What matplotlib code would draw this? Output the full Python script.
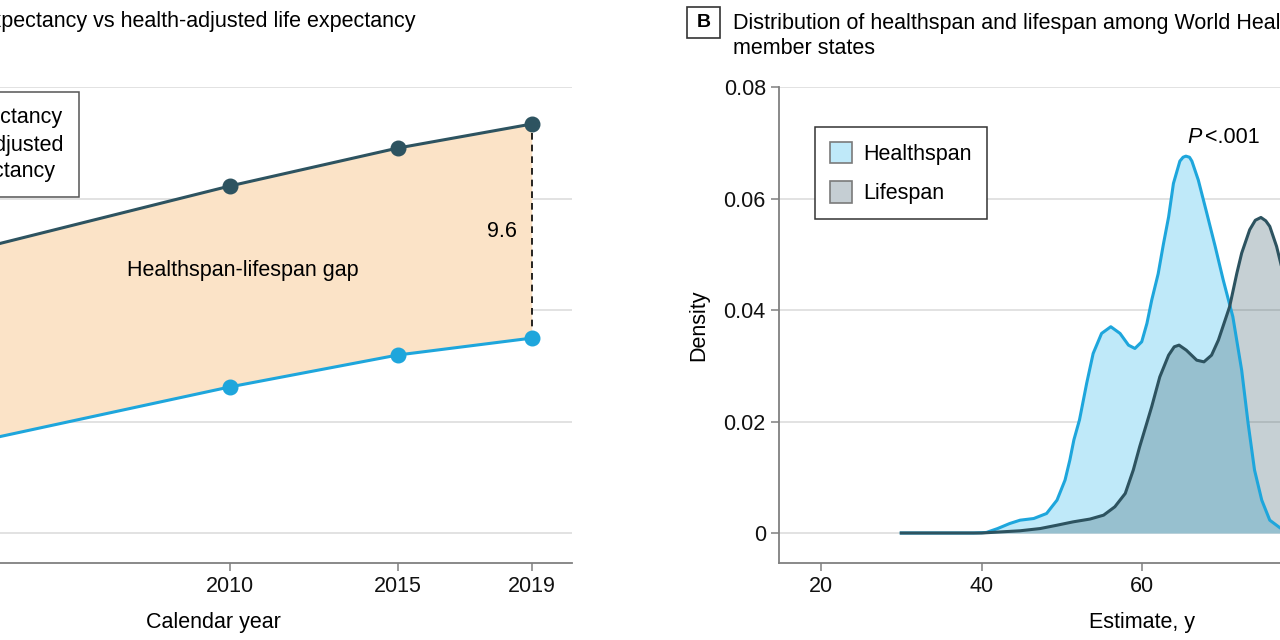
import matplotlib
matplotlib.use("Agg")
import matplotlib.pyplot as plt
from matplotlib.lines import Line2D
from matplotlib.patches import Patch, Rectangle

plt.rcParams["font.family"] = ["Liberation Sans", "DejaVu Sans"]
plt.rcParams["font.size"] = 15.5

# Panel A: global life expectancy vs health-adjusted life expectancy
years = [2000, 2010, 2015, 2019]
life_exp = [66.8, 70.56, 72.26, 73.34]
hale = [58.3, 61.55, 62.98, 63.74]
gap_label = "9.6"

# Panel B: density curves (estimate in years, density)
hs_x = [30, 35, 39, 40.6, 42.0, 43.5, 44.8, 46.5, 48.1, 49.4, 50.4, 51.0, 51.5, 52.2,
        53.1, 53.9, 54.95, 56.1, 57.25, 58.3, 59.1, 59.95, 60.6, 61.2, 62.0, 62.65,
        63.3, 63.9, 64.7, 65.1, 65.45, 65.9, 66.2, 67.0, 68.05, 69.1, 70.1, 71.3, 72.4,
        73.2, 74.0, 74.9, 75.9, 77.2, 78.5, 80, 85]
hs_y = [0, 0, 0, 0.0001, 0.0008, 0.0017, 0.0023, 0.0026, 0.0035, 0.0059, 0.0095,
        0.0131, 0.0167, 0.0203, 0.0269, 0.0322, 0.0358, 0.0370, 0.0358, 0.0337, 0.0331,
        0.0343, 0.0376, 0.0418, 0.0465, 0.0518, 0.0567, 0.0627, 0.0667, 0.0674, 0.0676,
        0.0674, 0.0667, 0.0633, 0.0574, 0.0514, 0.0454, 0.0388, 0.0292, 0.0197, 0.0113,
        0.0059, 0.0023, 0.0009, 0.0003, 0, 0]
ls_x = [30, 35, 40, 44.8, 47.3, 49.4, 51.4, 53.5, 55.2, 56.6, 57.9, 58.9, 59.7, 60.6,
        61.2, 62.2, 63.3, 64.0, 64.6, 65.5, 66.8, 67.7, 68.65, 69.5, 70.9, 71.8, 72.4,
        73.4, 74.1, 74.8, 75.4, 75.9, 76.75, 77.5, 78.5, 80, 81.5, 83, 84.5, 86, 88]
ls_y = [0, 0, 0, 0.0004, 0.0008, 0.0014, 0.0020, 0.0025, 0.0032, 0.0047, 0.0071,
        0.0113, 0.0155, 0.0198, 0.0227, 0.0280, 0.0319, 0.0334, 0.0337, 0.0328, 0.0310,
        0.0307, 0.0319, 0.0346, 0.0406, 0.0466, 0.0502, 0.0544, 0.0561, 0.0566, 0.0560,
        0.0550, 0.0514, 0.0470, 0.0400, 0.0270, 0.0150, 0.0060, 0.0020, 0.0005, 0]

DARK = "#2d5360"
BLUE = "#1ea6dc"
PEACH = "#fbe3c7"
HS_FILL = "#bfe9f9"
GRID = "#dddddd"
SPINE = "#808080"

fig = plt.figure(figsize=(12.8, 6.4), dpi=100)
W, H = 1280, 640


def style_axis(ax):
    for s in ["top", "right"]:
        ax.spines[s].set_visible(False)
    for s in ["left", "bottom"]:
        ax.spines[s].set_color(SPINE)
        ax.spines[s].set_linewidth(1.3)
    ax.tick_params(colors=SPINE, labelcolor="#111111", length=6, width=1.1,
                   labelsize=15.5)
    ax.grid(axis="y", color=GRID, lw=1.2)
    ax.set_axisbelow(True)


# ---------- panel A (left edge cropped, as in the reference) ----------
axA = fig.add_axes([-146 / W, 77 / H, 718 / W, 476 / H])
style_axis(axA)
axA.fill_between(years, hale, life_exp, color=PEACH, lw=0, zorder=1)
axA.plot(years, life_exp, "-o", color=DARK, lw=2.2, ms=10.5, zorder=3)
axA.plot(years, hale, "-o", color=BLUE, lw=2.2, ms=10.5, zorder=3)
axA.plot([years[-1], years[-1]], [hale[-1], life_exp[-1]], ls=(0, (4, 3)),
         color="black", lw=1.2, zorder=2)
axA.text(2018.12, 68.5, gap_label, ha="center", va="center", fontsize=15.5)
axA.text(2010.4, 66.75, "Healthspan-lifespan gap", ha="center", va="center", fontsize=15.5)
axA.set_xlim(1998.8, 2020.2)
axA.set_ylim(53.655, 75)
axA.set_xticks(years[1:])
axA.set_yticks([55, 60, 65, 70, 75])
axA.tick_params(axis="y", labelleft=False, left=False)
axA.set_xlabel("Calendar year", labelpad=11)
hA = [Line2D([], [], color=DARK, marker="o", lw=2.2, ms=10.5),
      Line2D([], [], color=BLUE, marker="o", lw=2.2, ms=10.5)]
legA = fig.legend(hA, ["Life expectancy", "Health-adjusted\nlife expectancy"],
                  loc="upper right", bbox_to_anchor=(79 / W, 1 - 92 / H),
                  bbox_transform=fig.transFigure, borderaxespad=0, fancybox=False,
                  edgecolor="#555555", framealpha=1, fontsize=15.5,
                  labelspacing=0.3, borderpad=0.72, handlelength=2.0)
legA.get_frame().set_linewidth(1.1)
for t in legA.get_texts():
    t.set_linespacing(1.3)
fig.text(416 / W, 1 - 21 / H, "Life expectancy vs health-adjusted life expectancy",
         ha="right", va="center", fontsize=15.5)

# ---------- panel B (right edge cropped) ----------
axB = fig.add_axes([779 / W, 77 / H, 726 / W, 476 / H])
style_axis(axB)
axB.fill_between(hs_x, 0, hs_y, color=HS_FILL, lw=0, zorder=1)
axB.fill_between(ls_x, 0, ls_y, color=DARK, alpha=0.27, lw=0, zorder=2)
axB.plot(hs_x, hs_y, color=BLUE, lw=2.2, zorder=3, solid_joinstyle="round")
axB.plot(ls_x, ls_y, color=DARK, lw=2.2, zorder=4, solid_joinstyle="round")
axB.set_xlim(14.77, 105.2)
axB.set_ylim(-0.00538, 0.08)
axB.set_xticks([20, 40, 60])
axB.set_xticklabels(["20", "40", "60"])
axB.set_yticks([0, 0.02, 0.04, 0.06, 0.08])
axB.set_yticklabels(["0", "0.02", "0.04", "0.06", "0.08"])
axB.set_xlabel("Estimate, y", labelpad=11)
axB.set_ylabel("Density", labelpad=10)
axB.text(65.6, 0.0709, "P", style="italic", ha="left", va="center", fontsize=15.5)
axB.text(67.8, 0.0709, "<.001", ha="left", va="center", fontsize=15.5)
hB = [Patch(facecolor=HS_FILL, edgecolor="#7a7a7a", lw=1.2),
      Patch(facecolor="#c5ced3", edgecolor="#7a7a7a", lw=1.2)]
legB = axB.legend(hB, ["Healthspan", "Lifespan"], loc="upper left",
                  bbox_to_anchor=(815 / W, 1 - 127 / H), bbox_transform=fig.transFigure,
                  borderaxespad=0, fancybox=False, edgecolor="#333333", framealpha=1,
                  fontsize=15.5, handlelength=1.0, handleheight=1.15, handletextpad=0.55,
                  labelspacing=0.75, borderpad=0.7)
legB.get_frame().set_linewidth(1.1)

fig.patches.append(Rectangle((687 / W, 1 - 38 / H), 33 / W, 31 / H, transform=fig.transFigure,
                             facecolor="white", edgecolor="#333333", lw=1.2))
fig.text(703.5 / W, 1 - 22.5 / H, "B", ha="center", va="center", fontsize=14,
         fontweight="bold")
fig.text(733 / W, 1 - 23 / H, "Distribution of healthspan and lifespan among World Health Organization",
         ha="left", va="center", fontsize=15.5)
fig.text(733 / W, 1 - 48 / H, "member states", ha="left", va="center", fontsize=15.5)

fig.savefig("out.png", dpi=100)
